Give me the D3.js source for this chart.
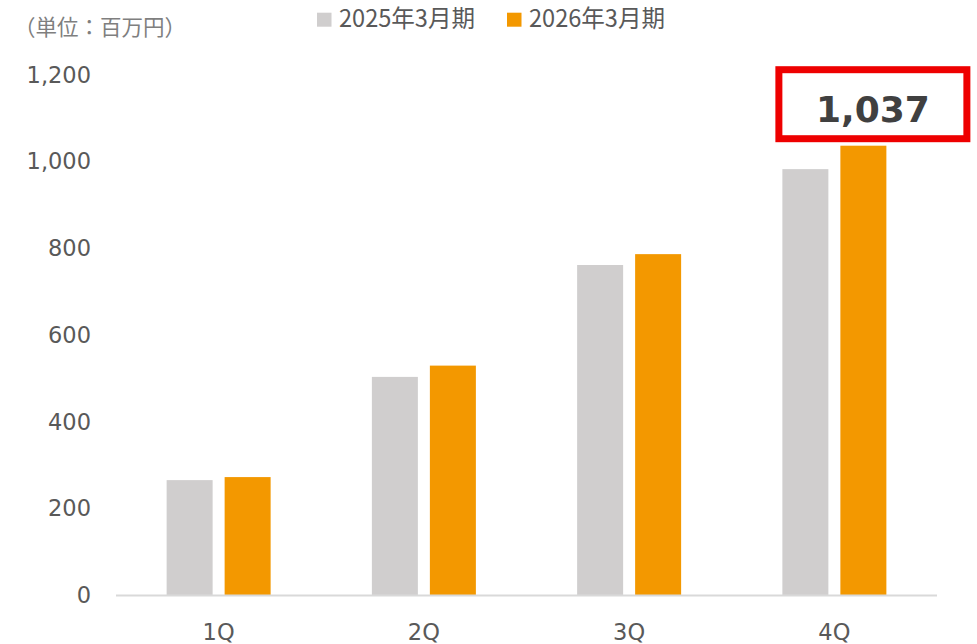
<!DOCTYPE html>
<html>
<head>
<meta charset="utf-8">
<script src="https://cdn.jsdelivr.net/npm/d3@7/dist/d3.min.js"></script>
<style>
html,body{margin:0;padding:0;background:#fff;}
svg{display:block;}
</style>
</head>
<body>
<svg id="chart" width="977" height="644"></svg>
<script>
const categories = ["1Q", "2Q", "3Q", "4Q"];
const seriesNames = ["2025年3月期", "2026年3月期"];
const values2025 = [266, 504, 762, 983];
const values2026 = [273, 530, 787, 1037];
const yTicks = [0, 200, 400, 600, 800, 1000, 1200];
const unitLabel = "（単位：百万円）";
const highlightLabel = "1,037";
const colors = ["#d0cece", "#f39800"];

(function () {
const svg = d3.select("#chart");
const plotLeft = 116, plotRight = 937, plotBottom = 595.5, plotTop = 75;

const x0 = d3.scaleBand().domain(categories).range([plotLeft, plotRight])
  .paddingInner(0.4933).paddingOuter(0.4933 / 2);
const x1 = d3.scaleBand().domain(seriesNames).range([0, x0.bandwidth()])
  .paddingInner(0.2069).paddingOuter(0);
const y = d3.scaleLinear().domain([0, 1200]).range([plotBottom, plotTop]);

const seriesData = [values2025, values2026];

// bars
const groups = svg.append("g").selectAll("g")
  .data(categories).join("g")
  .attr("transform", d => `translate(${x0(d)},0)`);
groups.selectAll("rect")
  .data((d, i) => seriesNames.map((s, j) => ({ s, v: seriesData[j][i], j })))
  .join("rect")
  .attr("x", d => x1(d.s))
  .attr("width", x1.bandwidth())
  .attr("y", d => y(d.v))
  .attr("height", d => y(0) - y(d.v))
  .attr("fill", d => colors[d.j]);

// baseline axis line
svg.append("line")
  .attr("x1", plotLeft).attr("x2", plotRight)
  .attr("y1", y(0)).attr("y2", y(0))
  .attr("stroke", "#d9d9d9").attr("stroke-width", 2);

// y axis
const yAxis = d3.axisLeft(y).tickValues(yTicks).tickFormat(d3.format(",")).tickSize(0).tickPadding(0);
const yg = svg.append("g").attr("transform", `translate(91,0)`).call(yAxis);
yg.select(".domain").remove();
yg.selectAll("text")
  .attr("fill", "#595959")
  .style("font-family", "'DejaVu Sans', Verdana, sans-serif")
  .style("font-size", "22.5px");

// x axis
const xAxis = d3.axisBottom(x0).tickSize(0).tickPadding(0);
const xg = svg.append("g").attr("transform", `translate(0,${y(0)})`).call(xAxis);
xg.select(".domain").remove();
xg.selectAll("text")
  .attr("y", 0).attr("dy", "44px")
  .attr("fill", "#595959")
  .style("font-family", "'DejaVu Sans', Verdana, sans-serif")
  .style("font-size", "22.5px");

// unit label
svg.append("text")
  .attr("x", 14).attr("y", 34.5)
  .attr("fill", "#7f7f7f")
  .attr("textLength", 172).attr("lengthAdjust", "spacingAndGlyphs")
  .style("font-family", "'Noto Sans CJK JP', sans-serif")
  .style("font-size", "22px")
  .text(unitLabel);

// legend
const legendX = [317, 507];
const lg = svg.append("g");
seriesNames.forEach((s, i) => {
  lg.append("rect").attr("x", legendX[i]).attr("y", 12.7).attr("width", 14.5).attr("height", 14).attr("fill", colors[i]);
  lg.append("text")
    .attr("x", legendX[i] + 22).attr("y", 27)
    .attr("fill", "#595959")
    .attr("textLength", 136).attr("lengthAdjust", "spacingAndGlyphs")
    .style("font-family", "'Noto Sans CJK JP', sans-serif")
    .style("font-size", "24px")
    .text(s);
});

// highlight box on 4Q 2026
const hx = x0("4Q") + x1(seriesNames[1]) + x1.bandwidth() / 2 + 9.5;
const hy = y(values2026[3]);
svg.append("rect")
  .attr("x", hx - 94).attr("y", hy - 76)
  .attr("width", 188).attr("height", 69)
  .attr("fill", "#fff")
  .attr("stroke", "#ee0000").attr("stroke-width", 7);
svg.append("text")
  .attr("x", hx).attr("y", hy - 24)
  .attr("text-anchor", "middle")
  .attr("fill", "#404040")
  .style("font-family", "'DejaVu Sans', Verdana, sans-serif")
  .style("font-weight", "bold")
  .style("font-size", "36px")
  .text(highlightLabel);
})();
</script>
</body>
</html>
